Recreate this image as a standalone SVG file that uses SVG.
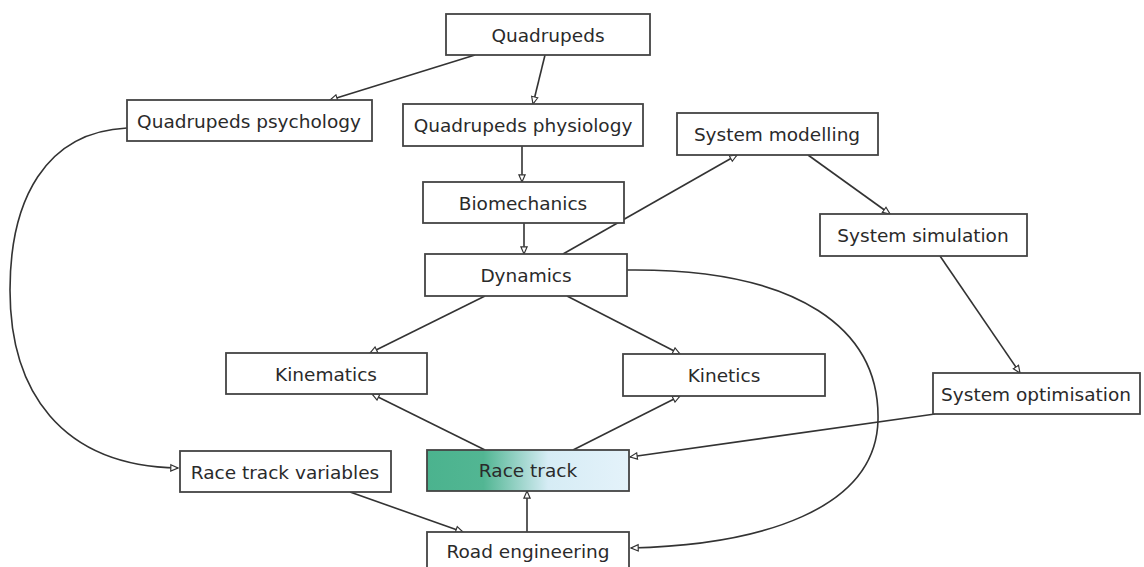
<svg xmlns="http://www.w3.org/2000/svg" width="1144" height="567" viewBox="0 0 1144 567">
<style>
.box{fill:#fff;stroke:#444;stroke-width:1.8}
.t{font-family:"DejaVu Sans",sans-serif;font-size:18.5px;fill:#2a2a2a;text-anchor:middle;dominant-baseline:central}
.c{fill:none;stroke:#333;stroke-width:1.6;marker-end:url(#ah)}
</style>
<defs>
<marker id="ah" viewBox="0 0 10 10" refX="9" refY="5" markerWidth="9" markerHeight="9" markerUnits="userSpaceOnUse" orient="auto">
<path d="M1,1.5 L9,5 L1,8.5 Z" fill="#fff" stroke="#333" stroke-width="1.3"/>
</marker>
<linearGradient id="rt" x1="0" y1="0" x2="1" y2="0">
<stop offset="0" stop-color="#4bb38e"/>
<stop offset="0.28" stop-color="#52b693"/>
<stop offset="0.6" stop-color="#d6ecf5"/>
<stop offset="1" stop-color="#e4f2fa"/>
</linearGradient>
</defs>
<rect width="1144" height="567" fill="#fff"/>
<g id="connectors">
<path class="c" d="M475,55 L330,100"/>
<path class="c" d="M545,55 L533,104"/>
<path class="c" d="M522,146 L522,182"/>
<path class="c" d="M524,223 L524,254"/>
<path class="c" d="M563,254 L737,155"/>
<path class="c" d="M808,155 L890,214"/>
<path class="c" d="M940,256 L1020,373"/>
<path class="c" d="M935,414 L630,457"/>
<path class="c" d="M485,296 L370,353"/>
<path class="c" d="M567,296 L680,354"/>
<path class="c" d="M485,450 L372,394"/>
<path class="c" d="M573,450 L680,396"/>
<path class="c" d="M350,492 L463,532"/>
<path class="c" d="M527,532 L527,491"/>
<path class="c" d="M127,128 C45,132 10,200 10,290 C10,390 60,466 178,468"/>
<path class="c" d="M627,270 C800,268 880,330 878,420 C876,510 760,545 631,548"/>
</g>
<g id="n-quadrupeds"><rect class="box" x="446" y="14" width="204" height="41"/><text class="t" x="548" y="35">Quadrupeds</text></g>
<g id="n-psychology"><rect class="box" x="127" y="100" width="245" height="41"/><text class="t" x="249" y="121">Quadrupeds psychology</text></g>
<g id="n-physiology"><rect class="box" x="403" y="104" width="240" height="42"/><text class="t" x="523" y="125">Quadrupeds physiology</text></g>
<g id="n-sysmodel"><rect class="box" x="677" y="113" width="201" height="42"/><text class="t" x="777" y="134">System modelling</text></g>
<g id="n-biomech"><rect class="box" x="423" y="182" width="201" height="41"/><text class="t" x="523" y="203">Biomechanics</text></g>
<g id="n-syssim"><rect class="box" x="820" y="214" width="207" height="42"/><text class="t" x="923" y="235">System simulation</text></g>
<g id="n-dynamics"><rect class="box" x="425" y="254" width="202" height="42"/><text class="t" x="526" y="275">Dynamics</text></g>
<g id="n-kinematics"><rect class="box" x="226" y="353" width="201" height="41"/><text class="t" x="326" y="374">Kinematics</text></g>
<g id="n-kinetics"><rect class="box" x="623" y="354" width="202" height="42"/><text class="t" x="724" y="375">Kinetics</text></g>
<g id="n-sysopt"><rect class="box" x="933" y="373" width="207" height="41"/><text class="t" x="1036" y="394">System optimisation</text></g>
<g id="n-rtvars"><rect class="box" x="180" y="451" width="211" height="41"/><text class="t" x="285" y="472">Race track variables</text></g>
<g id="n-racetrack"><rect class="box" x="427" y="450" width="202" height="41" style="fill:url(#rt)"/><text class="t" x="528" y="470">Race track</text></g>
<g id="n-road"><rect class="box" x="427" y="532" width="202" height="42"/><text class="t" x="528" y="551">Road engineering</text></g>
</svg>
